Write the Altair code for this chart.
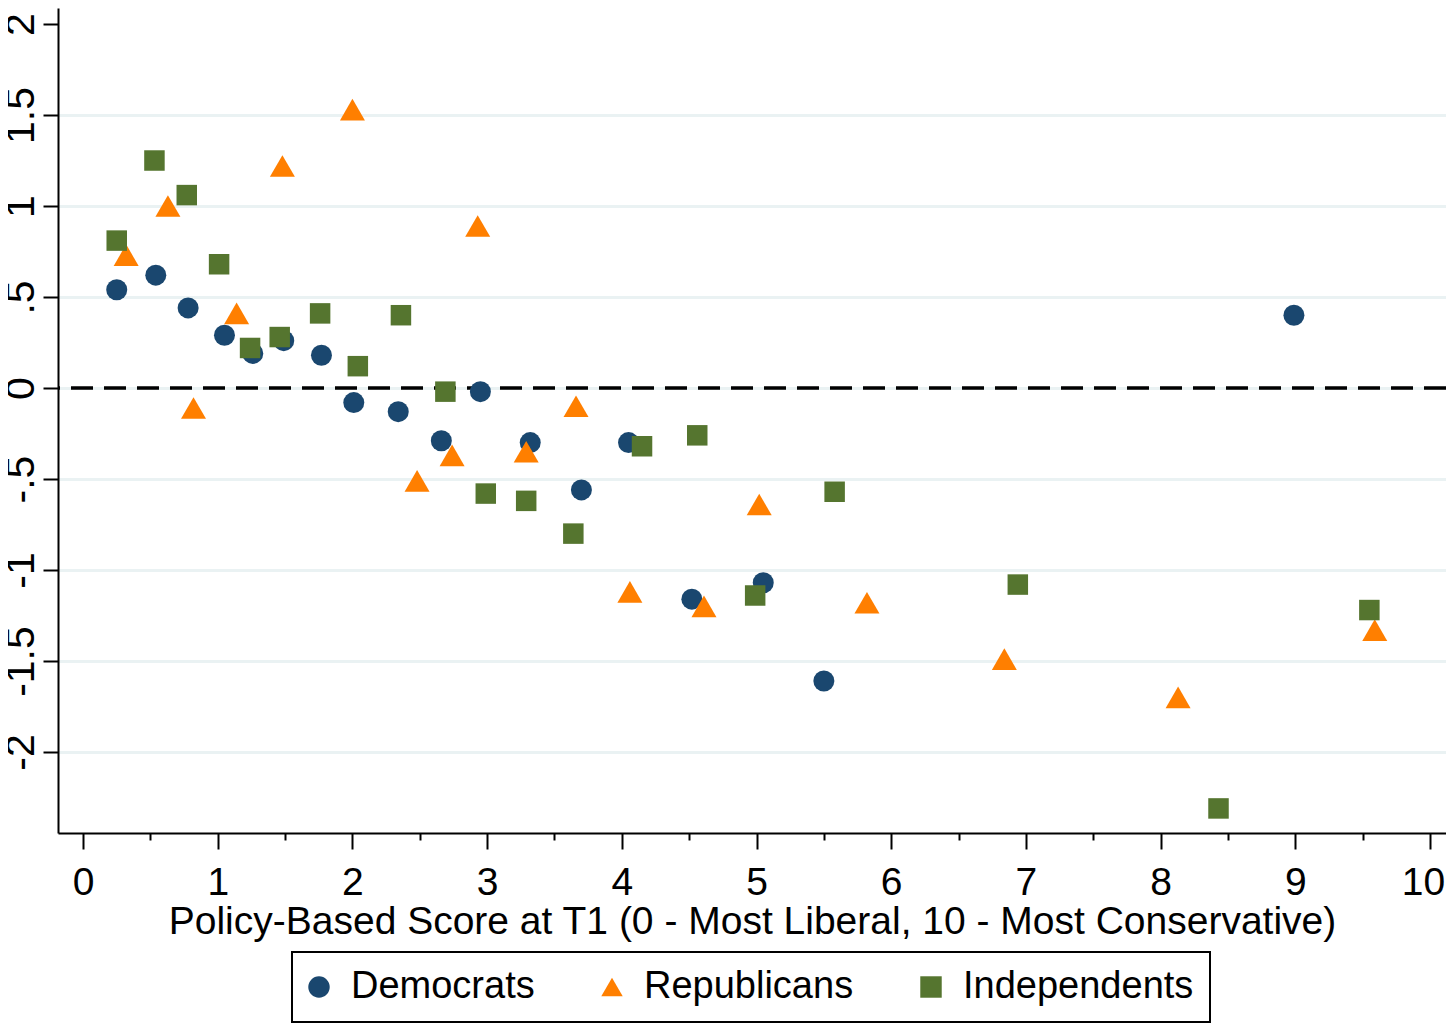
import altair as alt
import pandas as pd

parties = ["Democrats", "Republicans", "Independents"]
colors = ["#1a476f", "#ff7f00", "#55752f"]
shapes = ["circle", "triangle-up", "square"]
marker_sizes = [441, 625, 420]

dem_x = [0.25, 0.54, 0.78, 1.05, 1.26, 1.49, 1.77, 2.01, 2.34, 2.66, 2.95, 3.32, 3.70, 4.05, 4.52, 5.05, 5.50, 8.99]
dem_y = [0.54, 0.62, 0.44, 0.29, 0.19, 0.26, 0.18, -0.08, -0.13, -0.29, -0.02, -0.30, -0.56, -0.30, -1.16, -1.07, -1.61, 0.40]

rep_x = [0.32, 0.63, 0.82, 1.14, 1.48, 2.00, 2.48, 2.74, 2.93, 3.29, 3.66, 4.06, 4.61, 5.02, 5.82, 6.84, 8.13, 9.59]
rep_y = [0.73, 1.00, -0.11, 0.41, 1.22, 1.53, -0.51, -0.37, 0.89, -0.35, -0.10, -1.12, -1.20, -0.64, -1.18, -1.49, -1.70, -1.33]

ind_x = [0.25, 0.53, 0.77, 1.01, 1.24, 1.46, 1.76, 2.04, 2.36, 2.69, 2.99, 3.29, 3.64, 4.15, 4.56, 4.99, 5.58, 6.94, 8.43, 9.55]
ind_y = [0.81, 1.25, 1.06, 0.68, 0.22, 0.28, 0.41, 0.12, 0.40, -0.02, -0.58, -0.62, -0.80, -0.32, -0.26, -1.14, -0.57, -1.08, -2.31, -1.22]

x_ticks = [0, 0.5, 1, 1.5, 2, 2.5, 3, 3.5, 4, 4.5, 5, 5.5, 6, 6.5, 7, 7.5, 8, 8.5, 9, 9.5, 10]
y_ticks = [-2, -1.5, -1, -0.5, 0, 0.5, 1, 1.5, 2]
zero_line = [0]

x_title = "Policy-Based Score at T1 (0 - Most Liberal, 10 - Most Conservative)"

series = {"Democrats": (dem_x, dem_y), "Republicans": (rep_x, rep_y), "Independents": (ind_x, ind_y)}

FONT = "Liberation Sans"

y_enc = alt.Y(
    "y:Q",
    scale=alt.Scale(domain=[-2.445, 2.088], nice=False, zero=False),
    axis=alt.Axis(
        title=None,
        values=y_ticks,
        labelExpr="replace(toString(datum.value), '0.', '.')",
        labelAngle=270,
        labelAlign="center",
        labelBaseline="alphabetic",
        labelFontSize=41,
        labelPadding=10,
        tickSize=15,
        grid=True,
        gridColor="#eaf2f3",
        gridWidth=3,
        gridOpacity={"condition": {"test": "datum.value > 1.9", "value": 0}, "value": 1},
        labelOverlap=False,
        labelFlush=False,
    ),
)

x_enc = alt.X(
    "x:Q",
    scale=alt.Scale(domain=[-0.186, 10.119], nice=False, zero=False),
    axis=alt.Axis(
        title=x_title,
        values=x_ticks,
        labelExpr="datum.value % 1 === 0 ? toString(datum.value) : ''",
        tickSize={"condition": {"test": "datum.value % 1 !== 0", "value": 7}, "value": 16},
        labelOffset={"condition": {"test": "datum.value === 10", "value": -7}, "value": 0},
        labelPadding=14,
        grid=False,
        labelOverlap=False,
        labelFlush=False,
        titleBaseline="alphabetic",
        titleY=100,
    ),
)

color_enc = alt.Color("party:N", scale=alt.Scale(domain=parties, range=colors),
                      legend=alt.Legend(title=None))
shape_enc = alt.Shape("party:N", scale=alt.Scale(domain=parties, range=shapes),
                      legend=alt.Legend(title=None))

rule = alt.Chart(pd.DataFrame({"y": zero_line})).mark_rule(
    color="black", strokeWidth=3.5, strokeDash=[22, 11]
).encode(y=y_enc)

layers = [rule]
for name, sz in zip(parties, marker_sizes):
    xs, ys = series[name]
    d = pd.DataFrame({"x": xs, "y": ys, "party": name})
    layers.append(
        alt.Chart(d).mark_point(filled=True, opacity=1, strokeWidth=0, size=sz).encode(
            x=x_enc, y=y_enc, color=color_enc, shape=shape_enc
        )
    )

chart = alt.layer(*layers).properties(
    width=1388,
    height=825,
    autosize=alt.AutoSizeParams(type="none"),
    padding={"left": 50, "top": 0, "right": 0, "bottom": 190},
    background="white",
).configure_view(
    stroke=None
).configure_axis(
    domainColor="black",
    domainWidth=2,
    tickColor="black",
    tickWidth=2,
    labelColor="black",
    labelFont=FONT,
    labelFontSize=39,
    titleFont=FONT,
    titleFontSize=39,
    titleFontWeight="normal",
    titleColor="black",
).configure_legend(
    orient="none",
    legendX=234,
    legendY=944,
    direction="horizontal",
    padding=16,
    strokeColor="black",
    strokeWidth=2,
    columnPadding=66,
    labelOffset=13,
    symbolOffset=-8,
    labelFont=FONT,
    labelFontSize=38,
    labelColor="black",
    labelLimit=0,
    symbolSize=460,
    symbolOpacity=1,
    symbolStrokeWidth=0,
)

chart.save("out.html", embed_options={"renderer": "svg", "actions": False})
